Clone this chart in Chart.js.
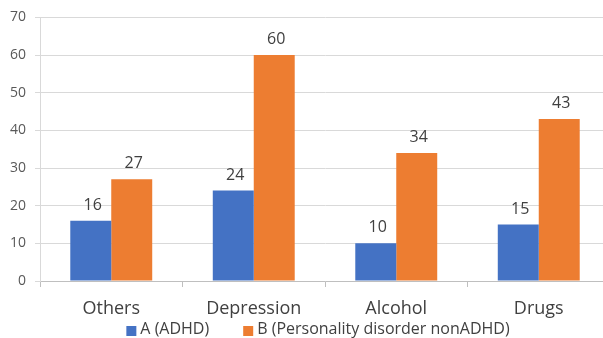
<!DOCTYPE html>
<html>
<head>
<meta charset="utf-8">
<script src="https://cdn.jsdelivr.net/npm/chart.js@4/dist/chart.umd.min.js"></script>
<style>
  html, body { margin: 0; padding: 0; background: #ffffff; overflow: hidden; }
  #wrap { width: 603px; height: 338px; overflow: hidden; position: relative; }
  canvas { display: block; }
</style>
</head>
<body>
<div id="wrap"><canvas id="chart" width="616" height="338"></canvas></div>
<script>
// Data
const categories = ['Others', 'Depression', 'Alcohol', 'Drugs'];
const seriesNames = ['A (ADHD)', 'B (Personality disorder nonADHD)'];
const adhdValues = [16, 24, 10, 15];
const nonAdhdValues = [27, 60, 34, 43];
const yTickValues = [0, 10, 20, 30, 40, 50, 60, 70];

// Styling
const FONT = '"Open Sans", "Noto Sans", sans-serif';
const BLUE = '#4472C4';
const ORANGE = '#ED7D31';
const TEXT_DARK = '#404040';
const TEXT_GRAY = '#595959';
const GRID = '#d9d9d9';
const LEGEND_CENTER_X = 318;
const LEGEND_MID_Y = 330;

// Value labels above each bar
const valueLabels = {
  id: 'valueLabels',
  afterDatasetsDraw(chart) {
    const ctx = chart.ctx;
    ctx.save();
    ctx.font = '16px ' + FONT;
    ctx.fillStyle = TEXT_DARK;
    ctx.textAlign = 'center';
    ctx.textBaseline = 'alphabetic';
    chart.data.datasets.forEach((ds, di) => {
      chart.getDatasetMeta(di).data.forEach((bar, i) => {
        ctx.fillText(String(ds.data[i]), bar.x + 2, bar.y - 11);
      });
    });
    ctx.restore();
  }
};

// Legend row under the category labels
const bottomLegend = {
  id: 'bottomLegend',
  afterDraw(chart) {
    const ctx = chart.ctx;
    ctx.save();
    ctx.font = '16px ' + FONT;
    const box = 10, textGap = 4, itemGap = 34;
    const items = chart.data.datasets.map(ds => ({ text: ds.label, color: ds.backgroundColor }));
    const widths = items.map(it => box + textGap + ctx.measureText(it.text).width);
    const total = widths.reduce((a, b) => a + b, 0) + itemGap * (items.length - 1);
    let x = LEGEND_CENTER_X - total / 2;
    ctx.textBaseline = 'middle';
    ctx.textAlign = 'left';
    items.forEach((it, i) => {
      ctx.fillStyle = it.color;
      ctx.fillRect(x, LEGEND_MID_Y - box / 2 + 1, box, box);
      ctx.fillStyle = TEXT_DARK;
      ctx.fillText(it.text, x + box + textGap, LEGEND_MID_Y - 1);
      x += widths[i] + itemGap;
    });
    ctx.restore();
  }
};

new Chart(document.getElementById('chart'), {
  type: 'bar',
  data: {
    labels: categories,
    datasets: [
      { label: seriesNames[0], data: adhdValues, backgroundColor: BLUE, borderWidth: 0 },
      { label: seriesNames[1], data: nonAdhdValues, backgroundColor: ORANGE, borderWidth: 0 }
    ]
  },
  options: {
    responsive: false,
    animation: false,
    devicePixelRatio: 1,
    layout: { padding: { top: 15, right: 6, left: 0, bottom: 0 } },
    datasets: { bar: { categoryPercentage: 0.575, barPercentage: 1.0 } },
    plugins: {
      legend: { display: false },
      tooltip: { enabled: false }
    },
    scales: {
      x: {
        offset: true,
        grid: { drawOnChartArea: false, drawTicks: true, tickLength: 6, color: '#bfbfbf', offset: true },
        border: { display: true, color: '#bfbfbf' },
        ticks: { color: TEXT_DARK, font: { family: FONT, size: 18 }, padding: 11, maxRotation: 0 },
        afterFit(scale) { scale.height = 57; }
      },
      y: {
        min: 0,
        max: 70,
        afterBuildTicks(scale) { scale.ticks = yTickValues.map(v => ({ value: v })); },
        grid: { color: GRID, drawTicks: true, tickLength: 5 },
        border: { display: true, color: GRID },
        ticks: { color: TEXT_GRAY, font: { family: FONT, size: 14 }, padding: 9 },
        afterFit(scale) { scale.width = 40; }
      }
    }
  },
  plugins: [valueLabels, bottomLegend]
});
</script>
</body>
</html>
